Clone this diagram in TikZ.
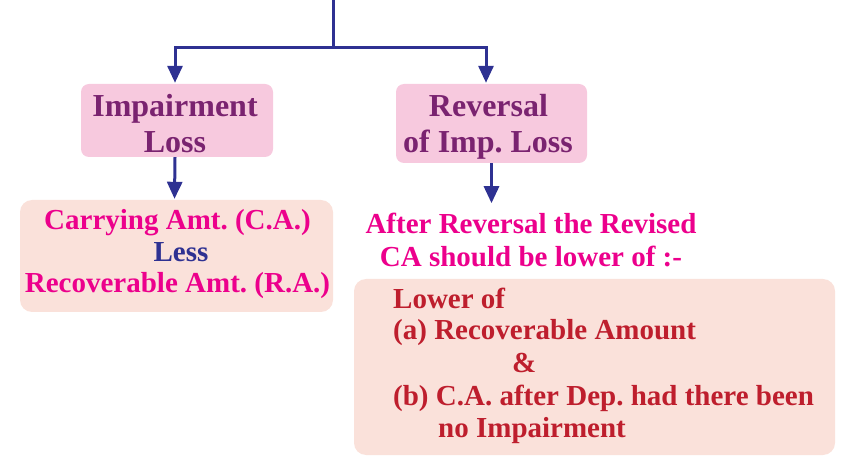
\documentclass[tikz,border=0pt]{standalone}
\usepackage{fontspec}
\setmainfont{Liberation Serif}
\usetikzlibrary{arrows.meta}
\frenchspacing
\definecolor{lineblue}{HTML}{2E3192}
\definecolor{pinkbox}{HTML}{F7C9DE}
\definecolor{peachbox}{HTML}{FAE1DA}
\definecolor{purpletxt}{HTML}{7A2370}
\definecolor{magentatxt}{HTML}{EC008C}
\definecolor{redtxt}{HTML}{BE1E2D}
\begin{document}
\begin{tikzpicture}[x=1pt,y=-1pt,
  pbox/.style={fill=pinkbox, rounded corners=8pt, inner sep=0pt},
  cbox/.style={fill=peachbox, rounded corners=12pt, inner sep=0pt},
  hdr/.style={inner sep=0pt, anchor=base, text=purpletxt, font=\fontsize{32}{36}\selectfont\bfseries\frenchspacing},
  mtxt/.style={inner sep=0pt, anchor=base, text=magentatxt, font=\fontsize{29}{32}\selectfont\bfseries\frenchspacing},
  rtxt/.style={inner sep=0pt, anchor=base west, text=redtxt, font=\fontsize{29}{32}\selectfont\bfseries\frenchspacing},
  conn/.style={draw=lineblue, line width=3pt},
  arr/.style={conn, -{Triangle[width=15pt,length=17pt]}}
]
\useasboundingbox (0,0) rectangle (846,462);

% boxes
\node[pbox, minimum width=192pt, minimum height=73pt] (imp) at (177,120.5) {};
\node[pbox, minimum width=191pt, minimum height=79pt] (rev) at (491.5,123.5) {};
\node[cbox, minimum width=313pt, minimum height=112pt] (ca) at (176.5,256) {};
\node[cbox, minimum width=481pt, minimum height=176pt] (low) at (594.5,367) {};

% box texts
\node[hdr] (imp1) at (175,117) {Impairment};
\node[hdr] (imp2) at (175,153) {Loss};
\node[hdr] (rev1) at (488.5,117) {Reversal};
\node[hdr] (rev2) at (488,153) {of Imp. Loss};

\node[mtxt] (ca1) at (177.5,230) {Carrying Amt. (C.A.)};
\node[mtxt, text=lineblue] (ca2) at (181,262) {Less};
\node[mtxt] (ca3) at (177.5,293) {Recoverable Amt. (R.A.)};

\node[mtxt] (af1) at (531,233.5) {After Reversal the Revised};
\node[mtxt] (af2) at (531,266.5) {CA should be lower of :-};

\node[rtxt] (l1) at (393,308.3) {Lower of};
\node[rtxt] (l2) at (393,340) {(a) Recoverable Amount};
\node[rtxt] (l3) at (512,372.5) {\&};
\node[rtxt] (l4) at (393,405) {(b) C.A. after Dep. had there been};
\node[rtxt] (l5) at (438,437) {no Impairment};

% connectors
\coordinate (top) at (333,0);
\coordinate (jn) at (333,48);
\draw[conn] (top) -- (jn);
\draw[arr, shorten >=1pt] (jn) -| ([xshift=-2pt]imp.north);
\draw[arr, shorten >=1pt] (jn) -| ([xshift=-5.5pt]rev.north);
\draw[arr, shorten >=1pt] ([xshift=-2pt]imp.south) -- ([xshift=-2pt]ca.north);
\draw[arr] (rev.south) -- ++(0,40);
\end{tikzpicture}
\end{document}
